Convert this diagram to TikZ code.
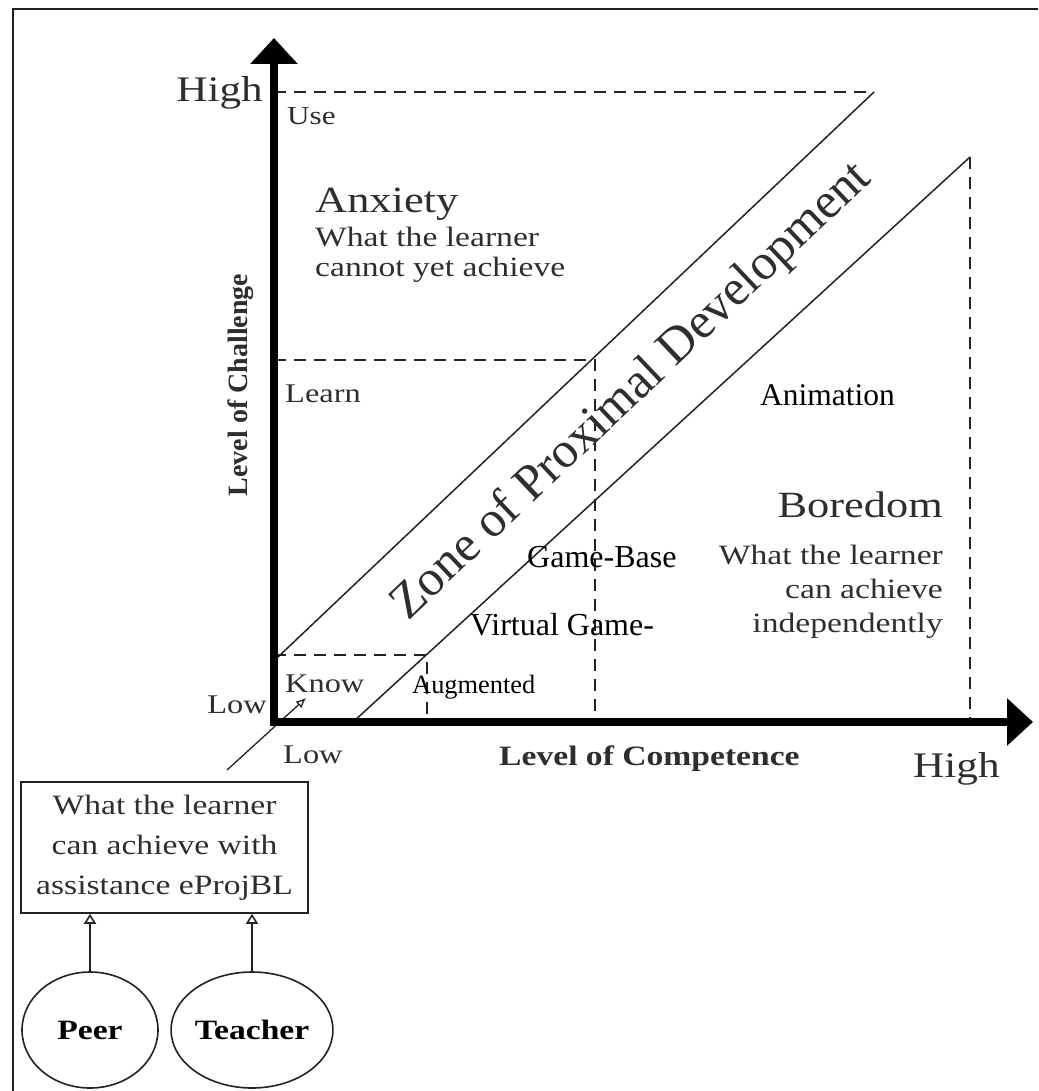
\documentclass[tikz,border=0pt]{standalone}
\usepackage{fontspec}
\setmainfont{Liberation Serif}
\newfontfamily\lblfont{Liberation Serif}[FakeStretch=1.2]
\usetikzlibrary{arrows.meta,shapes.geometric}

\definecolor{lblgray}{HTML}{2E2E2E}
\definecolor{lngray}{HTML}{222222}
\newcommand{\fsz}[2]{\fontsize{#1}{#2}\selectfont}

\tikzset{
  lbl/.style={inner sep=0pt, text=lblgray},
  tnr/.style={inner sep=0pt, text=black},
  guide/.style={draw=lngray, line width=1.6pt, dash pattern=on 12pt off 8pt},
  zpd/.style={draw=lngray, line width=1.5pt},
  axisline/.style={line width=8pt, -{Triangle[length=26pt,width=46pt]}},
  helper/.style={ellipse, draw=lngray, line width=1.6pt, minimum width=136pt,
    minimum height=116pt, inner sep=0pt, text=black,
    font=\lblfont\bfseries\fsz{28}{30}},
  assistarrow/.style={line width=1.6pt, draw=lngray,
    -{Triangle[open,length=10pt,width=12pt]}},
}

\begin{document}
\begin{tikzpicture}[x=1pt,y=-1pt]
  \useasboundingbox (0,0) rectangle (1038,1091);
  \clip (0,0) rectangle (1038,1091);
  \draw[line width=2pt, draw=lngray] (13,9) rectangle (1060,1110);

  % axes and zone corners
  \coordinate (o) at (274,722);
  \coordinate (ytip) at (274,38);
  \coordinate (xtip) at (1033,722);
  \coordinate (zu0) at (278,657);
  \coordinate (zu1) at (874,92);
  \coordinate (zl0) at (353,722);
  \coordinate (zl1) at (970,157);
  \coordinate (kn) at (427,655);
  \coordinate (ln) at (595,360);

  % dashed levels
  \draw[guide] (o |- zu1) -- (zu1);
  \draw[guide] (o |- ln) -- (ln) -- (ln |- o);
  \draw[guide] (o |- kn) -- (kn) -- (kn |- o);
  \draw[guide] (zl1) -- (zl1 |- o);

  % zone band
  \draw[zpd] (zu0) -- (zu1);
  \draw[zpd] (zl0) -- (zl1);

  \coordinate (zstart) at (227,770);
  \coordinate (zend) at (306,698);
  \draw[line width=1.3pt, draw=lngray, -{Latex[open,length=10pt,width=9pt]}] (zstart) -- (zend);

  \draw[axisline] (274,726) -- (ytip);
  \draw[axisline] (270,722) -- (xtip);

  % axis labels
  \node[lbl, font=\lblfont\fsz{36}{40}, anchor=base east] (hiy) at (263,102) {High};
  \node[lbl, font=\lblfont\fsz{36}{40}, anchor=base west] (hix) at (913,777) {High};
  \node[lbl, font=\lblfont\fsz{27}{30}, anchor=base east] (loy) at (267,713) {Low};
  \node[lbl, font=\lblfont\fsz{27}{30}, anchor=base west] (lox) at (283,763) {Low};
  \node[lbl, font=\bfseries\fsz{28}{30}, rotate=90, anchor=base] (chal) at (247,385) {Level of Challenge};
  \node[lbl, font=\lblfont\bfseries\fsz{28}{30}, anchor=base west] (comp) at (499,765) {Level of Competence};

  \node[lbl, font=\lblfont\fsz{26}{30}, anchor=base west] (use) at (287,125) {Use};
  \node[lbl, font=\lblfont\fsz{27}{30}, anchor=base west] (learn) at (285,402) {Learn};
  \node[lbl, font=\lblfont\fsz{27}{30}, anchor=base west] (know) at (285,692) {Know};

  \node[lbl, font=\lblfont\fsz{37}{40}, anchor=base west] (anx) at (315,213) {Anxiety};
  \node[lbl, font=\lblfont\fsz{28}{30}, align=left, anchor=west] (anxtxt) at (315,255)
    {What the learner\\cannot yet achieve};
  \node[lbl, font=\lblfont\fsz{37}{40}, anchor=base east] (bore) at (943,517) {Boredom};
  \node[lbl, font=\lblfont\fsz{28}{34}, align=right, anchor=east] (boretxt) at (943,592)
    {What the learner\\can achieve\\independently};

  \node[lbl, font=\fsz{50.5}{52}, rotate=43.5] (zone) at (632,392) {Zone of Proximal Development};

  % media
  \node[tnr, font=\fsz{31.5}{34}, anchor=base west] (anim) at (760,405) {Animation};
  \node[tnr, font=\fsz{32}{34}, anchor=base west] (game) at (527,567) {Game-Base};
  \node[tnr, font=\fsz{32}{34}, anchor=base west] (virt) at (470,635) {Virtual Game-};
  \node[tnr, font=\fsz{26.4}{30}, anchor=base west] (aug) at (412,693) {Augmented};

  % assistance
  \node[lbl, draw=lngray, line width=1.6pt, font=\lblfont\fsz{28}{40}, align=center,
    minimum width=287pt, minimum height=131pt] (assist) at (164.5,847.5)
    {What the learner\\can achieve with\\assistance eProjBL};
  \node[helper] (peer) at (90,1030) {Peer};
  \node[helper] (teacher) at (252,1030) {Teacher};
  \draw[assistarrow] (peer) -- (peer |- assist.south);
  \draw[assistarrow] (teacher) -- (teacher |- assist.south);

\end{tikzpicture}
\end{document}
